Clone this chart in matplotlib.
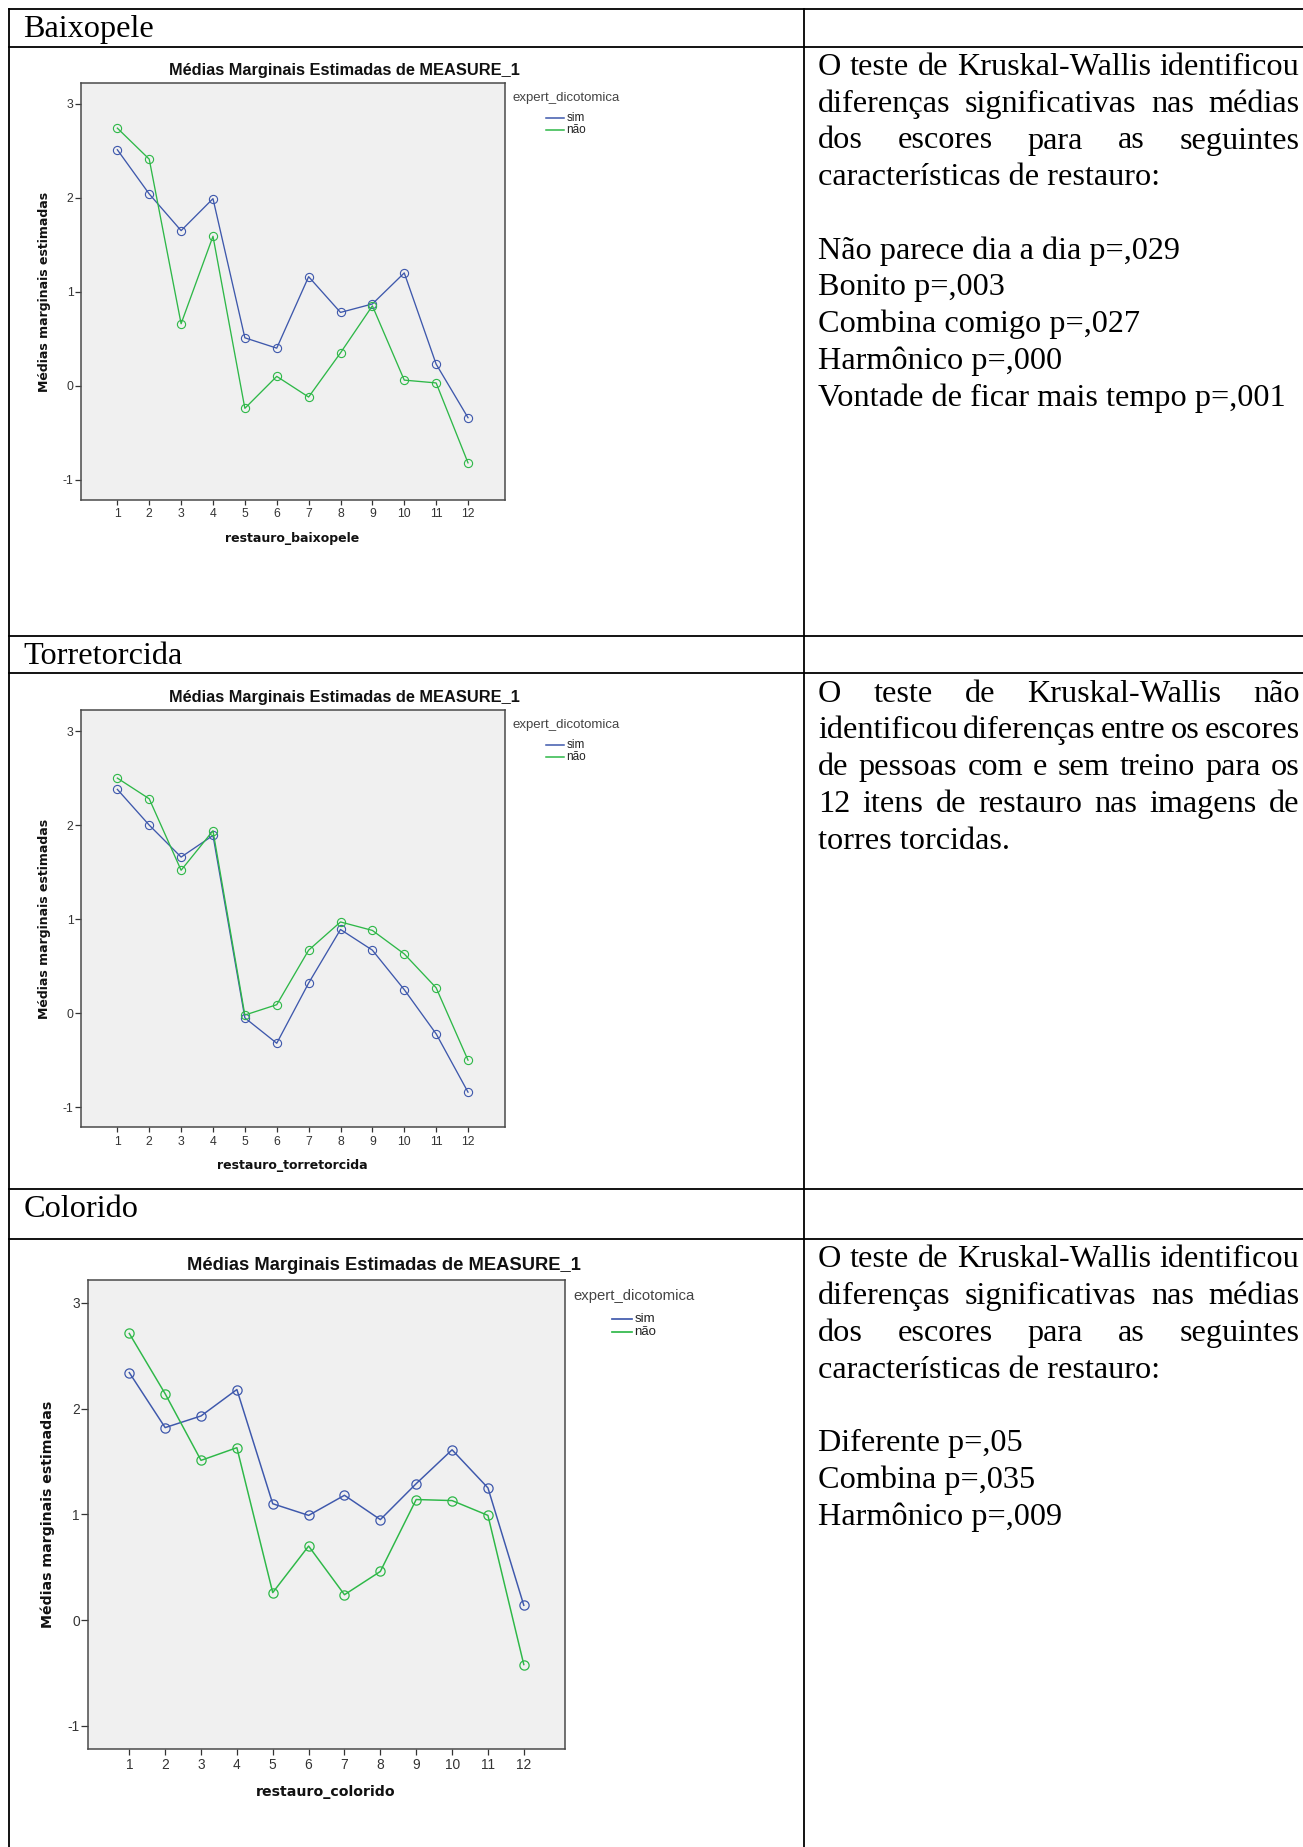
import matplotlib
matplotlib.use("Agg")
import matplotlib.pyplot as plt
from matplotlib.lines import Line2D

# ---------------- data ----------------
itens = list(range(1, 13))
rotulos_x = [str(i) for i in itens]
ticks_y = [-1, 0, 1, 2, 3]
rotulos_y = ["-1", "0", "1", "2", "3"]
grupos = ["sim", "não"]

baixopele_sim = [2.51, 2.04, 1.65, 1.99, 0.51, 0.40, 1.16, 0.78, 0.87, 1.20, 0.23, -0.34]
baixopele_nao = [2.74, 2.41, 0.66, 1.59, -0.24, 0.10, -0.12, 0.35, 0.85, 0.06, 0.03, -0.82]

torretorcida_sim = [2.38, 2.00, 1.66, 1.89, -0.05, -0.32, 0.32, 0.89, 0.67, 0.25, -0.22, -0.84]
torretorcida_nao = [2.50, 2.28, 1.52, 1.94, -0.02, 0.09, 0.67, 0.97, 0.88, 0.63, 0.27, -0.50]

colorido_sim = [2.34, 1.82, 1.93, 2.18, 1.10, 0.99, 1.18, 0.95, 1.29, 1.61, 1.25, 0.14]
colorido_nao = [2.71, 2.14, 1.51, 1.63, 0.26, 0.70, 0.24, 0.46, 1.14, 1.13, 0.99, -0.42]

cabecalhos = ["Baixopele", "Torretorcida", "Colorido"]
rotulos_eixo_x = ["restauro_baixopele", "restauro_torretorcida", "restauro_colorido"]
titulo_grafico = "Médias Marginais Estimadas de MEASURE_1"
rotulo_eixo_y = "Médias marginais estimadas"
titulo_legenda = "expert_dicotomica"

texto_baixopele = [
    ("O teste de Kruskal-Wallis identificou", True),
    ("diferenças significativas nas médias", True),
    ("dos escores para as seguintes", True),
    ("características de restauro:", False),
    ("", False),
    ("Não parece dia a dia p=,029", False),
    ("Bonito p=,003", False),
    ("Combina comigo p=,027", False),
    ("Harmônico p=,000", False),
    ("Vontade de ficar mais tempo p=,001", False),
]
texto_torretorcida = [
    ("O teste de Kruskal-Wallis não", True),
    ("identificou diferenças entre os escores", True),
    ("de pessoas com e sem treino para os", True),
    ("12 itens de restauro nas imagens de", True),
    ("torres torcidas.", False),
]
texto_colorido = [
    ("O teste de Kruskal-Wallis identificou", True),
    ("diferenças significativas nas médias", True),
    ("dos escores para as seguintes", True),
    ("características de restauro:", False),
    ("", False),
    ("Diferente p=,05", False),
    ("Combina p=,035", False),
    ("Harmônico p=,009", False),
]

# ---------------- figure ----------------
W, H, DPI = 1303, 1847, 100
plt.rcParams["font.family"] = ["Liberation Sans", "DejaVu Sans"]

fig = plt.figure(figsize=(W / DPI, H / DPI), dpi=DPI)
fig.patch.set_facecolor("white")
renderer = fig.canvas.get_renderer()


def fx(x):
    return x / W


def fy(y):
    return 1 - y / H


def seg(x0, y0, x1, y1, lw=1.3):
    fig.add_artist(Line2D([fx(x0), fx(x1)], [fy(y0), fy(y1)],
                          transform=fig.transFigure, color="black",
                          lw=lw, solid_capstyle="projecting"))


# table grid
TOP, LEFT, DIV, RIGHT, BOTTOM = 9.3, 9.0, 803.5, W + 2, H + 2
for yy in [TOP, 46.7, 635.8, 673.4, 1189.3, 1239.0]:
    seg(LEFT, yy, RIGHT, yy)
seg(LEFT, TOP, LEFT, BOTTOM)
seg(DIV, TOP, DIV, BOTTOM)

SERIF = dict(family=["Liberation Serif", "DejaVu Serif"], fontsize=23.2, color="black")

# row headers
for nome, yb in zip(cabecalhos, [37.3, 663.8, 1217.3]):
    fig.text(fx(23.5), fy(yb), nome, ha="left", va="baseline", **SERIF)


def text_width(s):
    t = fig.text(0, 0, s, **SERIF)
    w = t.get_window_extent(renderer=renderer).width
    t.remove()
    return w


def paragraph(linhas, y_first, x_left=818.0, x_right=1299.5, step=36.75):
    for i, (s, just) in enumerate(linhas):
        if not s:
            continue
        y = y_first + i * step
        if just:
            words = s.split(" ")
            ws = [text_width(wd) for wd in words]
            gap = (x_right - x_left - sum(ws)) / (len(words) - 1)
            x = x_left
            for wd, ww in zip(words, ws):
                fig.text(fx(x), fy(y), wd, ha="left", va="baseline", **SERIF)
                x += ww + gap
        else:
            fig.text(fx(x_left), fy(y), s, ha="left", va="baseline", **SERIF)


paragraph(texto_baixopele, 75.0)
paragraph(texto_torretorcida, 701.7)
paragraph(texto_colorido, 1267.3)

BLUE = "#3E58AC"
GREEN = "#2EB848"
FRAME = "#4a4a4a"


def chart(x0, y0, k, sim, nao, xlabel):
    w, h = 424 * k, 417 * k
    ax = fig.add_axes([fx(x0), fy(y0 + h), w / W, h / H])
    ax.set_facecolor("#f0f0f0")
    for serie, cor in zip([sim, nao], [BLUE, GREEN]):
        ax.plot(itens, serie, color=cor, lw=0.95 * k, marker="o",
                ms=5.9 * k, mfc="none", mec=cor, mew=0.8 * k, zorder=3)
    ax.set_xlim(-0.14, 13.16)
    ax.set_ylim(-1.215, 3.22)
    ax.set_xticks(itens)
    ax.set_xticklabels(rotulos_x)
    ax.set_yticks(ticks_y)
    ax.set_yticklabels(rotulos_y)
    for s in ax.spines.values():
        s.set_color(FRAME)
        s.set_linewidth(1.1)
    ax.tick_params(axis="y", direction="out", length=4.6 * k, width=0.9,
                   color="#333333", labelsize=8.8 * k, labelcolor="#333333", pad=0.8 * k)
    ax.tick_params(axis="x", direction="out", length=3.8 * k, width=0.9,
                   color="#333333", labelsize=8.8 * k, labelcolor="#333333", pad=2.2 * k)

    # title and axis labels
    fig.text(fx(x0 + 263 * k), fy(y0 - 8 * k), titulo_grafico, ha="center",
             va="baseline", fontsize=11.8 * k, fontweight="bold", color="#111111")
    fig.text(fx(x0 - 36 * k), fy(y0 + h / 2), rotulo_eixo_y, rotation=90,
             ha="center", va="center", fontsize=9 * k, fontweight="bold",
             family="DejaVu Sans", color="#111111")
    fig.text(fx(x0 + 211 * k), fy(y0 + h + 38.5 * k), xlabel, ha="center",
             va="center", fontsize=9 * k, fontweight="bold",
             family="DejaVu Sans", color="#111111")

    # legend
    fig.text(fx(x0 + 431.5 * k), fy(y0 + 14.5 * k), titulo_legenda, ha="left",
             va="center", fontsize=9.5 * k, color="#444444")
    for j, (g, cor) in enumerate(zip(grupos, [BLUE, GREEN])):
        yy = y0 + (35 + 12 * j) * k
        fig.add_artist(Line2D([fx(x0 + 465 * k), fx(x0 + 483 * k)], [fy(yy), fy(yy)],
                              transform=fig.transFigure, color=cor, lw=1.1 * k))
        fig.text(fx(x0 + 485.5 * k), fy(yy), g, ha="left", va="center",
                 fontsize=8.5 * k, color="#222222")
    return ax


chart(81.0, 83.0, 1.0, baixopele_sim, baixopele_nao, rotulos_eixo_x[0])
chart(81.0, 710.4, 1.0, torretorcida_sim, torretorcida_nao, rotulos_eixo_x[1])
chart(88.4, 1279.5, 1.125, colorido_sim, colorido_nao, rotulos_eixo_x[2])

fig.savefig("out.png", dpi=DPI, facecolor="white")
